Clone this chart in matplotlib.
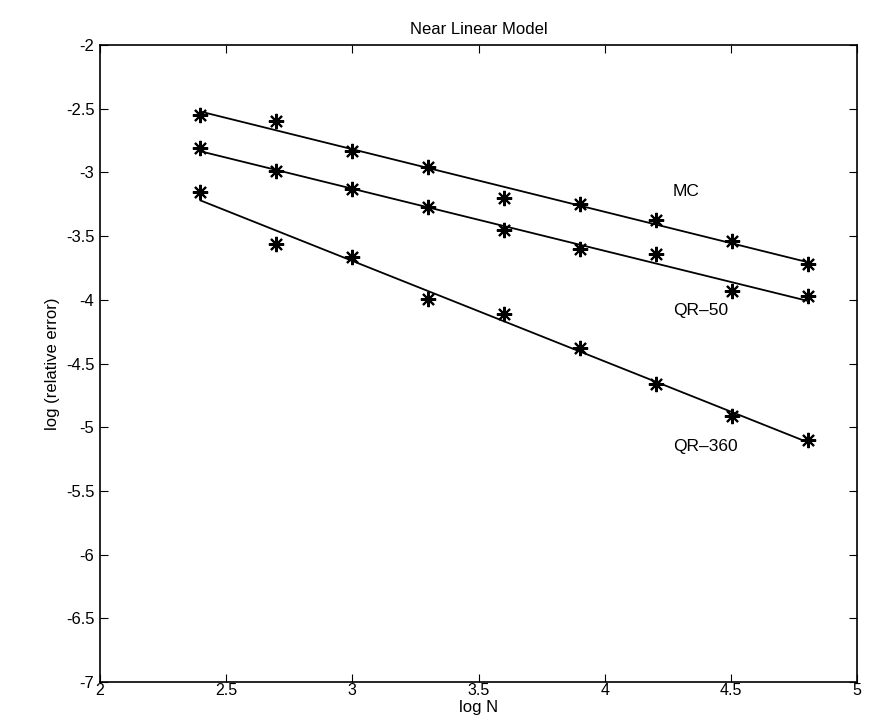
import numpy as np
import matplotlib
matplotlib.use("Agg")
import matplotlib.pyplot as plt

plt.rcParams['font.family'] = ['Liberation Sans', 'DejaVu Sans']
plt.rcParams['axes.unicode_minus'] = False

# log10 of sample sizes
log_n = [2.398, 2.699, 3.0, 3.301, 3.602, 3.903, 4.204, 4.505, 4.806]

# log of relative error
mc = [-2.55, -2.60, -2.83, -2.96, -3.20, -3.25, -3.37, -3.54, -3.72]
qr50 = [-2.81, -2.99, -3.13, -3.27, -3.45, -3.60, -3.64, -3.93, -3.97]
qr360 = [-3.15, -3.56, -3.66, -3.99, -4.11, -4.38, -4.66, -4.91, -5.10]

labels = ["MC", "QR--50", "QR--360"]
label_pos = [(4.27, -3.15), (4.27, -4.08), (4.27, -5.15)]

fig = plt.figure(figsize=(8.7, 7.15), dpi=100)
ax = fig.add_axes([0.115, 0.046, 0.870, 0.891])

x = np.array(log_n)
for y, lab, pos in zip([mc, qr50, qr360], labels, label_pos):
    y = np.array(y)
    # least squares line through the points
    slope, intercept = np.polyfit(x, y, 1)
    ax.plot(x, slope * x + intercept, color='black', lw=1.3)
    ax.plot(x, y, linestyle='none', marker=(8, 2, 0), markersize=11,
            color='black', markeredgewidth=1.5)
    ax.text(pos[0], pos[1], lab.replace("--", "\u2013"), fontsize=12.5,
            ha='left', va='center')

ax.set_xlim(2, 5)
ax.set_ylim(-7, -2)
ax.set_xticks([2, 2.5, 3, 3.5, 4, 4.5, 5])
ax.set_xticklabels(["2", "2.5", "3", "3.5", "4", "4.5", "5"])
ax.set_yticks(np.arange(-7, -1.9, 0.5))
ax.set_yticklabels(["-7", "-6.5", "-6", "-5.5", "-5", "-4.5", "-4", "-3.5",
                    "-3", "-2.5", "-2"])
ax.tick_params(direction='in', length=6, labelsize=12, top=True, right=True,
               pad=4)
ax.tick_params(axis='x', pad=1, labelsize=11.5)
for s in ax.spines.values():
    s.set_linewidth(1.2)

fig.text(0.5 * (0.115 + 0.985), 0.011, "log N", fontsize=12,
         ha='center', va='center')
ax.set_ylabel("log (relative error)", fontsize=12, labelpad=4)
ax.set_title("Near Linear Model", fontsize=12, pad=8)

fig.savefig("out.png", dpi=100)
